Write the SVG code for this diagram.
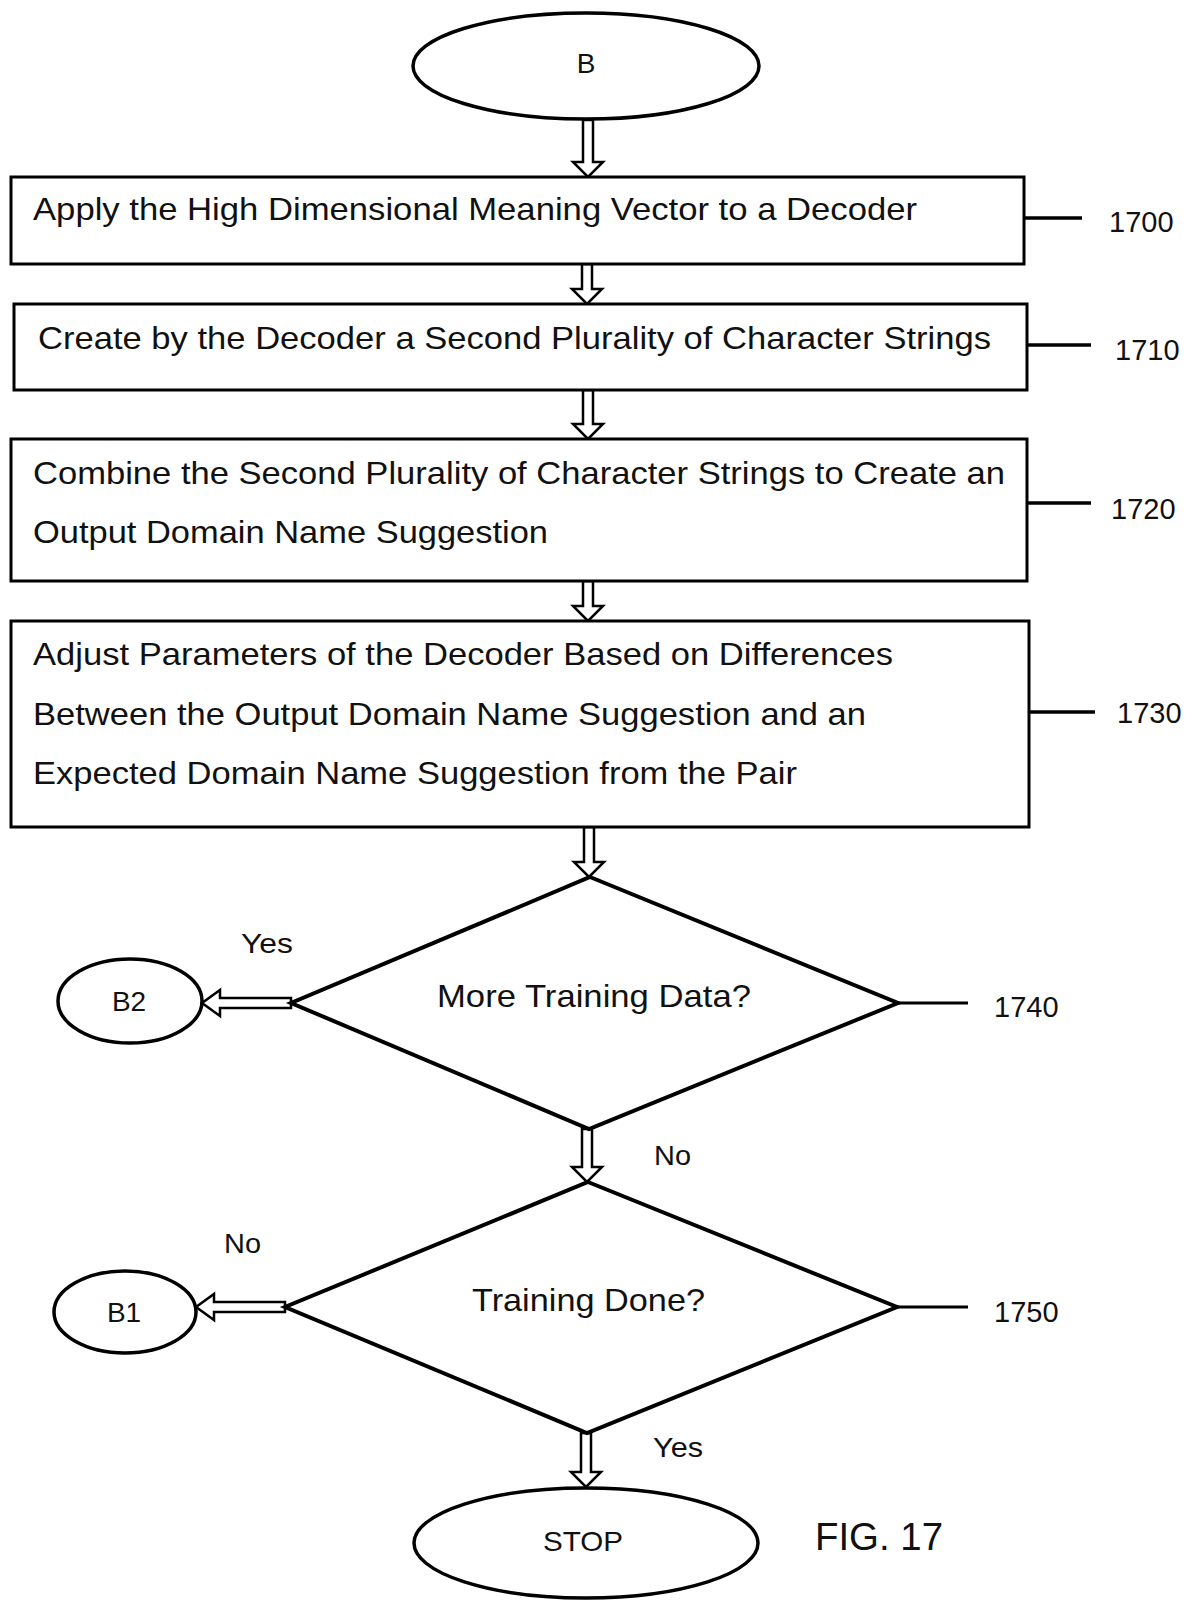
<svg xmlns="http://www.w3.org/2000/svg" width="1192" height="1602" viewBox="0 0 1192 1602">
<style>
.box{fill:#fff;stroke:#000;stroke-width:3}
.dia{fill:#fff;stroke:#000;stroke-width:4;stroke-linejoin:miter}
.ell{fill:#fff;stroke:#000;stroke-width:3.5}
.arr{fill:#fff;stroke:#000;stroke-width:2.5;stroke-linejoin:miter}
.lead{stroke:#000;stroke-width:3.5;fill:none}
.t{font-family:"Liberation Sans",Arial,sans-serif;font-size:32px;fill:#111}
.s{font-family:"Liberation Sans",Arial,sans-serif;font-size:28px;fill:#111}
.n{font-family:"Liberation Sans",Arial,sans-serif;font-size:29px;fill:#111}
.f{font-family:"Liberation Sans",Arial,sans-serif;font-size:39px;fill:#111}
</style>
<rect width="1192" height="1602" fill="#fff"/>
<g id="connectors">
<path class="arr" d="M583 120V162H573L588 177L603 162H593V120Z"/>
<path class="arr" d="M582 264V289H572L587 304L602 289H592V264Z"/>
<path class="arr" d="M583 390V424H573L588 439L603 424H593V390Z"/>
<path class="arr" d="M583 581V606H573L588 621L603 606H593V581Z"/>
<path class="arr" d="M584 827V862H574L589 877L604 862H594V827Z"/>
<path class="arr" d="M582 1129V1167H572L587 1182L602 1167H592V1129Z"/>
<path class="arr" d="M581 1433V1472H571L586 1487L601 1472H591V1433Z"/>
<path class="arr" d="M291 998H220V990L202 1003L220 1016V1008H291Z"/>
<path class="arr" d="M285 1302H214V1294L196 1307L214 1320V1312H285Z"/>
<line class="lead" x1="1024" y1="218" x2="1082" y2="218"/>
<line class="lead" x1="1027" y1="345" x2="1091" y2="345"/>
<line class="lead" x1="1027" y1="503" x2="1091" y2="503"/>
<line class="lead" x1="1029" y1="712" x2="1095" y2="712"/>
<line class="lead" x1="898" y1="1003" x2="968" y2="1003" style="stroke-width:3"/>
<line class="lead" x1="897" y1="1307" x2="968" y2="1307" style="stroke-width:3"/>
<text class="s" x="241" y="953" textLength="52" lengthAdjust="spacingAndGlyphs">Yes</text>
<text class="s" x="654" y="1165" textLength="37" lengthAdjust="spacingAndGlyphs">No</text>
<text class="s" x="224" y="1253" textLength="37" lengthAdjust="spacingAndGlyphs">No</text>
<text class="s" x="653" y="1457" textLength="50" lengthAdjust="spacingAndGlyphs">Yes</text>
</g>
<g id="start-B">
<ellipse class="ell" cx="586" cy="66" rx="173" ry="53"/>
<text class="s" x="586" y="73" text-anchor="middle">B</text>
</g>
<g id="step-1700">
<rect class="box" x="11" y="177" width="1013" height="87"/>
<text class="t" x="33" y="220" textLength="884" lengthAdjust="spacingAndGlyphs">Apply the High Dimensional Meaning Vector to a Decoder</text>
<text class="n" x="1109" y="232">1700</text>
</g>
<g id="step-1710">
<rect class="box" x="14" y="304" width="1013" height="86"/>
<text class="t" x="38" y="349" textLength="953" lengthAdjust="spacingAndGlyphs">Create by the Decoder a Second Plurality of Character Strings</text>
<text class="n" x="1115" y="360">1710</text>
</g>
<g id="step-1720">
<rect class="box" x="11" y="439" width="1016" height="142"/>
<text class="t" x="33" y="484" textLength="972" lengthAdjust="spacingAndGlyphs">Combine the Second Plurality of Character Strings to Create an</text>
<text class="t" x="33" y="543" textLength="515" lengthAdjust="spacingAndGlyphs">Output Domain Name Suggestion</text>
<text class="n" x="1111" y="519">1720</text>
</g>
<g id="step-1730">
<rect class="box" x="11" y="621" width="1018" height="206"/>
<text class="t" x="33" y="665" textLength="860" lengthAdjust="spacingAndGlyphs">Adjust Parameters of the Decoder Based on Differences</text>
<text class="t" x="33" y="725" textLength="833" lengthAdjust="spacingAndGlyphs">Between the Output Domain Name Suggestion and an</text>
<text class="t" x="33" y="784" textLength="764" lengthAdjust="spacingAndGlyphs">Expected Domain Name Suggestion from the Pair</text>
<text class="n" x="1117" y="723">1730</text>
</g>
<g id="decision-1740">
<polygon class="dia" points="590,877 898,1003 589,1129 291,1003"/>
<text class="t" x="437" y="1007" textLength="314" lengthAdjust="spacingAndGlyphs">More Training Data?</text>
<text class="n" x="994" y="1017">1740</text>
</g>
<g id="connector-B2">
<ellipse class="ell" cx="130" cy="1001" rx="72" ry="42"/>
<text class="s" x="129" y="1011" text-anchor="middle">B2</text>
</g>
<g id="decision-1750">
<polygon class="dia" points="588,1182 897,1307 587,1433 285,1307"/>
<text class="t" x="472" y="1311" textLength="233" lengthAdjust="spacingAndGlyphs">Training Done?</text>
<text class="n" x="994" y="1322">1750</text>
</g>
<g id="connector-B1">
<ellipse class="ell" cx="125" cy="1312" rx="71" ry="41"/>
<text class="s" x="124" y="1322" text-anchor="middle">B1</text>
</g>
<g id="stop">
<ellipse class="ell" cx="586" cy="1543" rx="172" ry="55"/>
<text class="s" x="583" y="1551" text-anchor="middle" textLength="80" lengthAdjust="spacingAndGlyphs">STOP</text>
</g>
<text class="f" x="815" y="1550" textLength="128" lengthAdjust="spacingAndGlyphs">FIG. 17</text>
</svg>
